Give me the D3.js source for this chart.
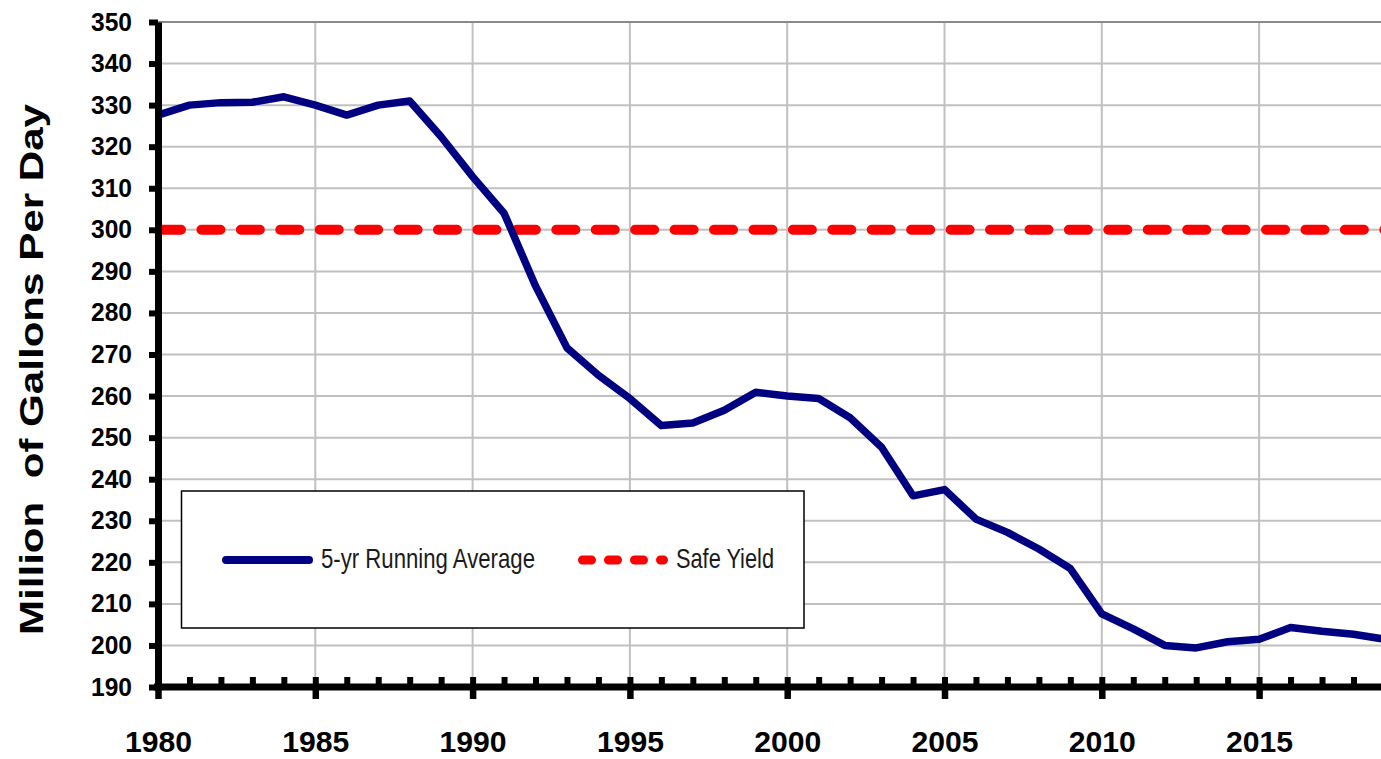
<!DOCTYPE html>
<html>
<head>
<meta charset="utf-8">
<script src="https://cdn.jsdelivr.net/npm/d3@7"></script>
<style>
  html, body { margin: 0; padding: 0; background: #fff; }
  svg { display: block; }
</style>
</head>
<body>
<div id="chart"></div>
<script>
// ---- data ----
const years = [1980,1981,1982,1983,1984,1985,1986,1987,1988,1989,
               1990,1991,1992,1993,1994,1995,1996,1997,1998,1999,
               2000,2001,2002,2003,2004,2005,2006,2007,2008,2009,
               2010,2011,2012,2013,2014,2015,2016,2017,2018,2019];
const runningAvg = [327.6,330.0,330.6,330.7,332.0,330.0,327.6,330.0,331.0,322.4,
                    312.8,304.0,286.5,271.6,265.0,259.4,252.9,253.5,256.6,260.9,
                    260.0,259.4,254.8,247.7,236.0,237.5,230.4,227.2,223.2,218.5,
                    207.6,204.0,200.0,199.4,200.9,201.5,204.3,203.4,202.7,201.5];
const safeYield = 300;
const yTicks = [190,200,210,220,230,240,250,260,270,280,290,300,310,320,330,340,350];
const xMajorTicks = [1980,1985,1990,1995,2000,2005,2010,2015];
const xTickLabels = ["1980","1985","1990","1995","2000","2005","2010","2015"];
const seriesNames = ["5-yr Running Average", "Safe Yield"];
const yTitle = "Million  of Gallons Per Day";

// ---- layout ----
const W = 1381, H = 759;
const svg = d3.select("#chart").append("svg").attr("width", W).attr("height", H);

const x = d3.scaleLinear().domain([1980, 2020]).range([158, 158 + 40 * 31.46]);
const y = d3.scaleLinear().domain([190, 350]).range([687, 22]);

const gridColor = "#c0c0c0";

// horizontal gridlines
svg.append("g").selectAll("line")
  .data(yTicks.filter(v => v > 190 && v < 350))
  .join("line")
  .attr("x1", x(1980)).attr("x2", x(2020))
  .attr("y1", d => y(d)).attr("y2", d => y(d))
  .attr("stroke", gridColor).attr("stroke-width", 2);

// vertical gridlines
svg.append("g").selectAll("line")
  .data(xMajorTicks.filter(v => v > 1980))
  .join("line")
  .attr("x1", d => x(d)).attr("x2", d => x(d))
  .attr("y1", y(350)).attr("y2", y(190))
  .attr("stroke", gridColor).attr("stroke-width", 2);

// top border
svg.append("line")
  .attr("x1", x(1980)).attr("x2", x(2020))
  .attr("y1", y(350)).attr("y2", y(350))
  .attr("stroke", "#8a8a8a").attr("stroke-width", 2.2);

// safe yield line
svg.append("line")
  .attr("x1", x(1980)).attr("x2", x(2020))
  .attr("y1", y(safeYield)).attr("y2", y(safeYield))
  .attr("stroke", "#ff0000").attr("stroke-width", 10)
  .attr("stroke-linecap", "round")
  .attr("stroke-dasharray", "19 20.43")
  .attr("stroke-dashoffset", -4);

// running average line
const line = d3.line().x((d, i) => x(years[i])).y(d => y(d));
svg.append("path")
  .datum(runningAvg)
  .attr("d", line)
  .attr("fill", "none")
  .attr("stroke", "#000080")
  .attr("stroke-width", 7.5)
  .attr("stroke-linejoin", "round");

// ---- axes ----
const yAxis = d3.axisLeft(y).tickValues(yTicks).tickSize(9).tickSizeOuter(0).tickPadding(17)
  .tickFormat(d3.format("d"));
const gy = svg.append("g").attr("transform", `translate(${x(1980)},0)`).call(yAxis);
gy.select(".domain").attr("stroke", "#000").attr("stroke-width", 7);
gy.selectAll(".tick line").attr("stroke", "#000").attr("stroke-width", 6);
gy.selectAll(".tick text")
  .attr("font-family", "'Liberation Sans', Arial, sans-serif")
  .attr("font-weight", "bold").attr("font-size", 25).attr("fill", "#000")
  .attr("textLength", 41).attr("lengthAdjust", "spacingAndGlyphs");

// minor ticks (inside)
const xMinor = d3.axisBottom(x).tickValues(years.concat([2020])).tickSize(-10).tickSizeOuter(0).tickFormat("");
const gxm = svg.append("g").attr("transform", `translate(0,${y(190)})`).call(xMinor);
gxm.select(".domain").remove();
gxm.selectAll(".tick line").attr("stroke", "#000").attr("stroke-width", 6);

const xAxis = d3.axisBottom(x).tickValues(xMajorTicks).tickSize(12).tickSizeOuter(0).tickPadding(32)
  .tickFormat((d, i) => xTickLabels[i]);
const gx = svg.append("g").attr("transform", `translate(0,${y(190)})`).call(xAxis);
gx.select(".domain").attr("stroke", "#000").attr("stroke-width", 7)
  .attr("d", `M${x(1980) - 4},0H${x(2020)}`);
gx.selectAll(".tick line").attr("stroke", "#000").attr("stroke-width", 6.5);
gx.selectAll(".tick text")
  .attr("font-family", "'Liberation Sans', Arial, sans-serif")
  .attr("font-weight", "bold").attr("font-size", 30).attr("fill", "#000")
  .attr("textLength", 67).attr("lengthAdjust", "spacingAndGlyphs");

// y title
svg.append("text")
  .attr("transform", `translate(43,${(104 + 635) / 2}) rotate(-90)`)
  .attr("text-anchor", "middle")
  .attr("font-family", "'Liberation Sans', Arial, sans-serif")
  .attr("font-weight", "bold").attr("font-size", 33)
  .attr("textLength", 531).attr("lengthAdjust", "spacingAndGlyphs")
  .style("white-space", "pre")
  .attr("xml:space", "preserve")
  .text(yTitle);

// ---- legend ----
const lg = svg.append("g");
lg.append("rect")
  .attr("x", 181.5).attr("y", 491).attr("width", 622.5).attr("height", 137)
  .attr("fill", "#fff").attr("stroke", "#000").attr("stroke-width", 1.5);
lg.append("line")
  .attr("x1", 226).attr("x2", 309).attr("y1", 560).attr("y2", 560)
  .attr("stroke", "#000080").attr("stroke-width", 8).attr("stroke-linecap", "round");
lg.append("text")
  .attr("transform", "translate(321,568.3) scale(1,1.27)")
  .attr("font-family", "'Liberation Sans', Arial, sans-serif")
  .attr("font-size", 22).attr("fill", "#1a1a1a")
  .attr("textLength", 214).attr("lengthAdjust", "spacingAndGlyphs")
  .text(seriesNames[0]);
lg.append("line")
  .attr("x1", 582.5).attr("x2", 663.5).attr("y1", 560).attr("y2", 560)
  .attr("stroke", "#ff0000").attr("stroke-width", 9).attr("stroke-linecap", "round")
  .attr("stroke-dasharray", "9 17");
lg.append("text")
  .attr("transform", "translate(676,568.3) scale(1,1.27)")
  .attr("font-family", "'Liberation Sans', Arial, sans-serif")
  .attr("font-size", 22).attr("fill", "#1a1a1a")
  .attr("textLength", 98).attr("lengthAdjust", "spacingAndGlyphs")
  .text(seriesNames[1]);
</script>
</body>
</html>
